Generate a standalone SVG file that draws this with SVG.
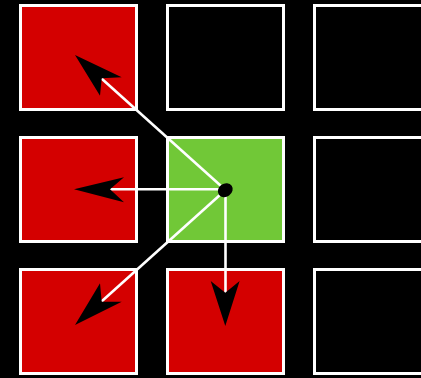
<svg xmlns="http://www.w3.org/2000/svg" width="421" height="378" viewBox="0 0 421 378">
<style>
.cell{stroke:#ffffff;stroke-width:3}
.red{fill:#d40000}
.green{fill:#71c837}
.empty{fill:#000000}
.conn{stroke:#ffffff;stroke-width:2.6;fill:none}
.head{fill:#000000}
</style>
<rect x="0" y="0" width="421" height="378" fill="#000000"/>
<g id="n00"><rect class="cell red" x="20.5" y="5.5" width="116" height="104"/></g>
<g id="n01"><rect class="cell empty" x="167.5" y="5.5" width="116" height="104"/></g>
<g id="n02"><rect class="cell empty" x="314.5" y="5.5" width="116" height="104"/></g>
<g id="n10"><rect class="cell red" x="20.5" y="137.5" width="116" height="104"/></g>
<g id="n11"><rect class="cell green" x="167.5" y="137.5" width="116" height="104"/></g>
<g id="n12"><rect class="cell empty" x="314.5" y="137.5" width="116" height="104"/></g>
<g id="n20"><rect class="cell red" x="20.5" y="269.5" width="116" height="104"/></g>
<g id="n21"><rect class="cell red" x="167.5" y="269.5" width="116" height="104"/></g>
<g id="n22"><rect class="cell empty" x="314.5" y="269.5" width="116" height="104"/></g>
<g id="connectors">
<line class="conn" x1="225.5" y1="190" x2="101.5" y2="78.5"/>
<line class="conn" x1="225.5" y1="189.3" x2="110" y2="189.3"/>
<line class="conn" x1="225.5" y1="190" x2="101.5" y2="301.5"/>
<line class="conn" x1="225.5" y1="190" x2="225.5" y2="293"/>
<polygon class="head" points="75,55 121.7,77.3 101.7,78.3 100,95.7"/>
<polygon class="head" points="74,189.3 124,177.3 110,189.3 124,202.3"/>
<polygon class="head" points="75,325 100,283.3 101.7,301.7 121.7,301.7"/>
<polygon class="head" points="225.3,326 210.7,281 225.3,292.7 239.6,281"/>
<ellipse cx="225.3" cy="190.2" rx="7.8" ry="6.6" transform="rotate(-35 225.3 190.2)" fill="#000000"/>
</g>
</svg>
